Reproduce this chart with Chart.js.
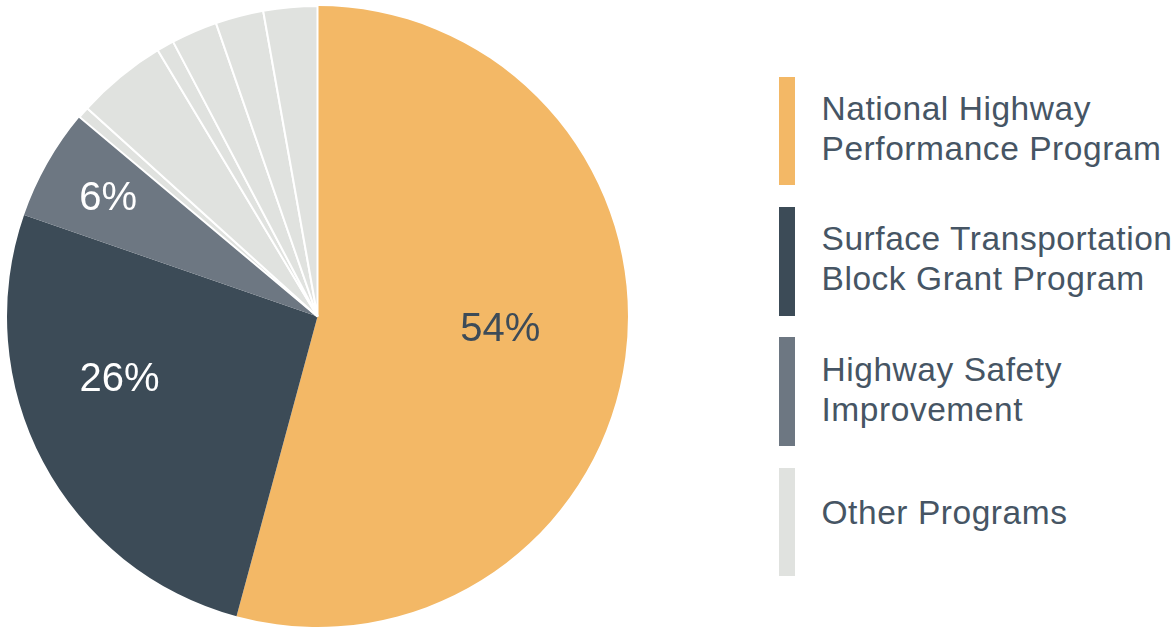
<!DOCTYPE html>
<html>
<head>
<meta charset="utf-8">
<script src="https://cdn.jsdelivr.net/npm/chart.js@4.4.1/dist/chart.umd.min.js"></script>
<style>
  html, body { margin:0; padding:0; background:#ffffff; }
  body { width:1176px; height:627px; overflow:hidden; position:relative; font-family:"Liberation Sans", Arial, sans-serif; }
  #wrap { position:absolute; left:6px; top:4.5px; width:623px; height:623px; }
  #legend { position:absolute; left:779px; top:76.7px; width:420px; }
  .item { position:relative; height:108.7px; margin-bottom:21.6px; }
  .bar { position:absolute; left:0; top:0; width:16px; height:108.7px; }
  .txt { position:absolute; left:42.5px; font-size:33.5px; letter-spacing:0.55px; line-height:40px; color:#465564; white-space:nowrap; }
</style>
</head>
<body>
<div id="wrap"><canvas id="c"></canvas></div>
<div id="legend"></div>
<script>
// ---- data ----
const categories = [
  "National Highway Performance Program",
  "Surface Transportation Block Grant Program",
  "Highway Safety Improvement",
  "Other Programs", "Other Programs", "Other Programs",
  "Other Programs", "Other Programs", "Other Programs"
];
const shares = [54.2, 26.1, 5.8, 0.6, 4.7, 0.9, 2.4, 2.5, 2.8];
const sliceLabels = ["54%", "26%", "6%", "", "", "", "", "", ""];
const legendNames = [
  ["National Highway", "Performance Program"],
  ["Surface Transportation", "Block Grant Program"],
  ["Highway Safety", "Improvement"],
  ["Other Programs"]
];

// ---- styles ----
const cOrange = "#F3B866", cDark = "#3C4B57", cGrey = "#6D7782", cLight = "#E0E2DF";
const sliceColors = [cOrange, cDark, cGrey, cLight, cLight, cLight, cLight, cLight, cLight];
const sliceBorders = [0, 0, 0, 2, 2, 2, 2, 2, 2];
const legendColors = [cOrange, cDark, cGrey, cLight];
// label placement: [fraction along the arc angle, fraction of radius]
const labelPlace = [[0.478, 0.59], [0.617, 0.666], [0.525, 0.779]];
const labelColors = ["#3D4B58", "#ffffff", "#ffffff"];

const labelPlugin = {
  id: 'sliceLabels',
  afterDatasetsDraw(chart) {
    const ctx = chart.ctx;
    const meta = chart.getDatasetMeta(0);
    const size = 40;
    ctx.save();
    ctx.font = size + 'px "Liberation Sans", Arial, sans-serif';
    ctx.textAlign = 'center';
    ctx.textBaseline = 'alphabetic';
    meta.data.forEach((arc, i) => {
      if (!sliceLabels[i]) return;
      const p = arc.getProps(['x','y','startAngle','endAngle','outerRadius'], true);
      const [af, rf] = labelPlace[i];
      const a = p.startAngle + (p.endAngle - p.startAngle) * af;
      const r = p.outerRadius * rf;
      const x = p.x + Math.cos(a) * r;
      const y = p.y + Math.sin(a) * r;
      ctx.fillStyle = labelColors[i];
      ctx.fillText(sliceLabels[i], x, y + size * 0.358);
    });
    ctx.restore();
  }
};

new Chart(document.getElementById('c'), {
  type: 'pie',
  data: {
    labels: categories,
    datasets: [{
      data: shares,
      backgroundColor: sliceColors,
      borderColor: '#ffffff',
      borderWidth: sliceBorders,
      borderAlign: 'center'
    }]
  },
  options: {
    responsive: true,
    maintainAspectRatio: false,
    animation: false,
    layout: { padding: 0 },
    plugins: { legend: { display: false }, tooltip: { enabled: false } }
  },
  plugins: [labelPlugin]
});

// HTML legend
const lg = document.getElementById('legend');
legendNames.forEach((lines, i) => {
  const item = document.createElement('div');
  item.className = 'item';
  const bar = document.createElement('div');
  bar.className = 'bar';
  bar.style.background = legendColors[i];
  const t = document.createElement('div');
  t.className = 'txt';
  t.style.top = (lines.length > 1 ? 12.4 : 25) + 'px';
  t.innerHTML = lines.join('<br>');
  item.appendChild(bar);
  item.appendChild(t);
  lg.appendChild(item);
});
</script>
</body>
</html>
